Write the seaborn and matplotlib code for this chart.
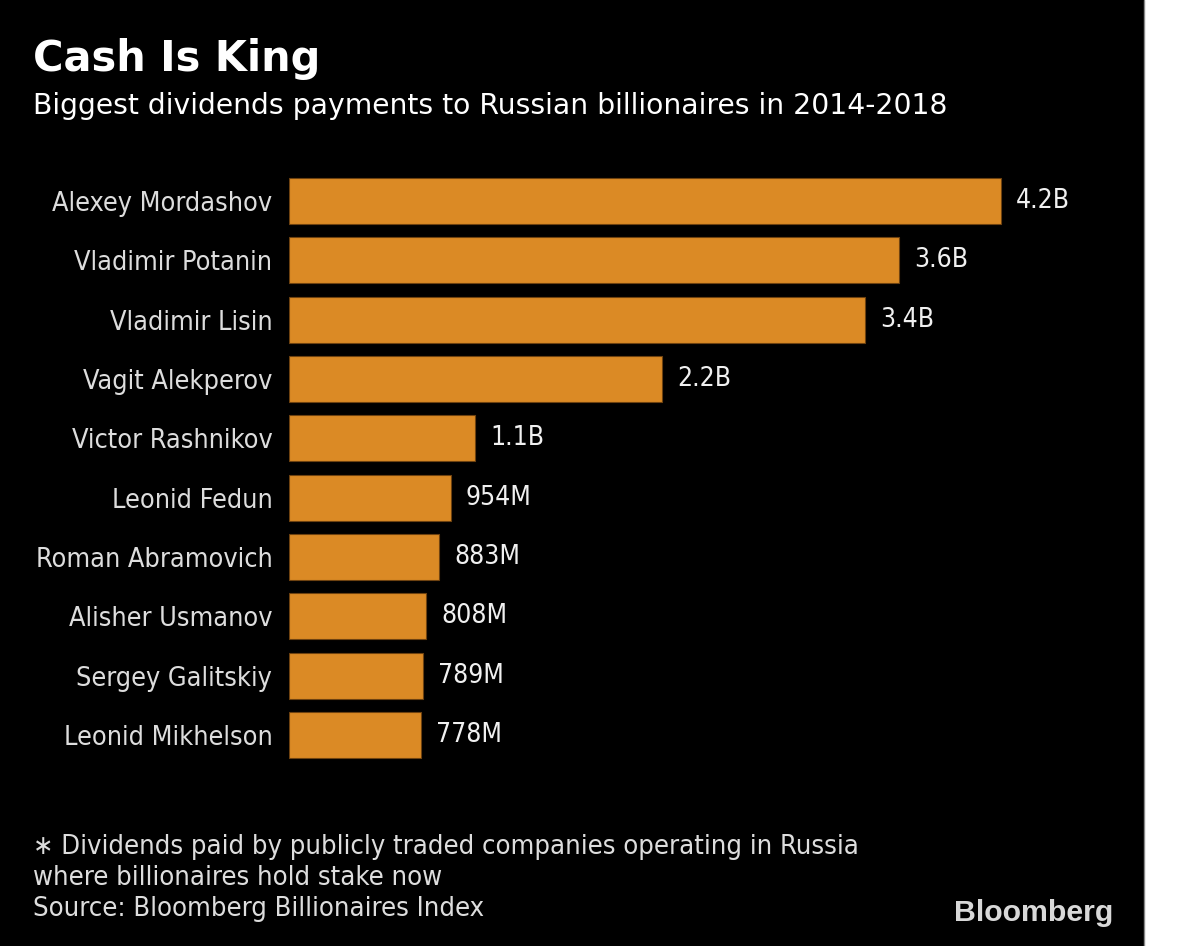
import matplotlib
matplotlib.use("Agg")
import matplotlib.pyplot as plt
import seaborn as sns
import pandas as pd
from matplotlib.patches import Rectangle

names = ["Alexey Mordashov", "Vladimir Potanin", "Vladimir Lisin", "Vagit Alekperov",
         "Victor Rashnikov", "Leonid Fedun", "Roman Abramovich", "Alisher Usmanov",
         "Sergey Galitskiy", "Leonid Mikhelson"]
values_musd = [4200, 3600, 3400, 2200, 1100, 954, 883, 808, 789, 778]

title = "Cash Is King"
subtitle = "Biggest dividends payments to Russian billionaires in 2014-2018"
footnote = ["\u2217 Dividends paid by publicly traded companies operating in Russia",
            "where billionaires hold stake now",
            "Source: Bloomberg Billionaires Index"]

def fmt(v):
    return f"{v/1000:.1f}B" if v >= 1000 else f"{v}M"

df = pd.DataFrame({"name": names, "value": values_musd})

sns.set_theme(style="dark")
W, H = 1200, 946
fig = plt.figure(figsize=(W / 100, H / 100), dpi=100)
fig.patch.set_facecolor("black")

# white strip on right
fig.patches.append(Rectangle((1144 / W, 0), 1 - 1144 / W, 1, transform=fig.transFigure,
                             facecolor="white", edgecolor="none", zorder=0))
fig.lines.append(plt.Line2D([1144 / W, 1144 / W], [0, 1], transform=fig.transFigure,
                            color="#888888", lw=1))

top_px, bot_px = 171.3, 764.7
ax = fig.add_axes([289 / W, 1 - bot_px / H, (1144 - 289) / W, (bot_px - top_px) / H])
ax.set_facecolor("black")

sns.barplot(data=df, x="value", y="name", orient="h", color="#DB8A25",
            edgecolor="#6e4210", linewidth=0.8, width=0.78, saturation=1, ax=ax)

ax.set_xlim(0, (1144 - 289) / 0.1695)
ax.set_ylim(len(names) - 0.5, -0.5)
ax.set_xlabel("")
ax.set_ylabel("")
ax.set_xticks([])
for s in ax.spines.values():
    s.set_visible(False)
ax.grid(False)

lab_font = dict(family="DejaVu Sans", fontstretch="condensed")
ax.tick_params(axis="y", length=0, pad=12, labelsize=19.4, labelcolor="#dddddd")
for t in ax.get_yticklabels():
    t.set_fontfamily("DejaVu Sans")
    t.set_fontstretch("condensed")

for i, v in enumerate(values_musd):
    ax.annotate(fmt(v), xy=(v, i), xytext=(11, 0), textcoords="offset points",
                va="center", ha="left", color="#f0f0f0", fontsize=19, **lab_font)

fig.text(33 / W, 1 - 59 / H, title, color="white", fontsize=29.9, fontweight="bold",
         family="DejaVu Sans", va="center", ha="left")
fig.text(33 / W, 1 - 106 / H, subtitle, color="white", fontsize=20.3,
         family="DejaVu Sans", va="center", ha="left")

ys = [847, 878, 909]
for line, y in zip(footnote, ys):
    fig.text(33 / W, 1 - y / H, line, color="#dddddd", fontsize=19.6,
             va="center", ha="left", **lab_font)

fig.text(1113 / W, 1 - 913 / H, "Bloomberg", color="#d8d8d8", fontsize=21.8,
         fontweight="bold", family="Liberation Sans", va="center", ha="right")

fig.savefig("out.png", dpi=100, facecolor=fig.get_facecolor())
